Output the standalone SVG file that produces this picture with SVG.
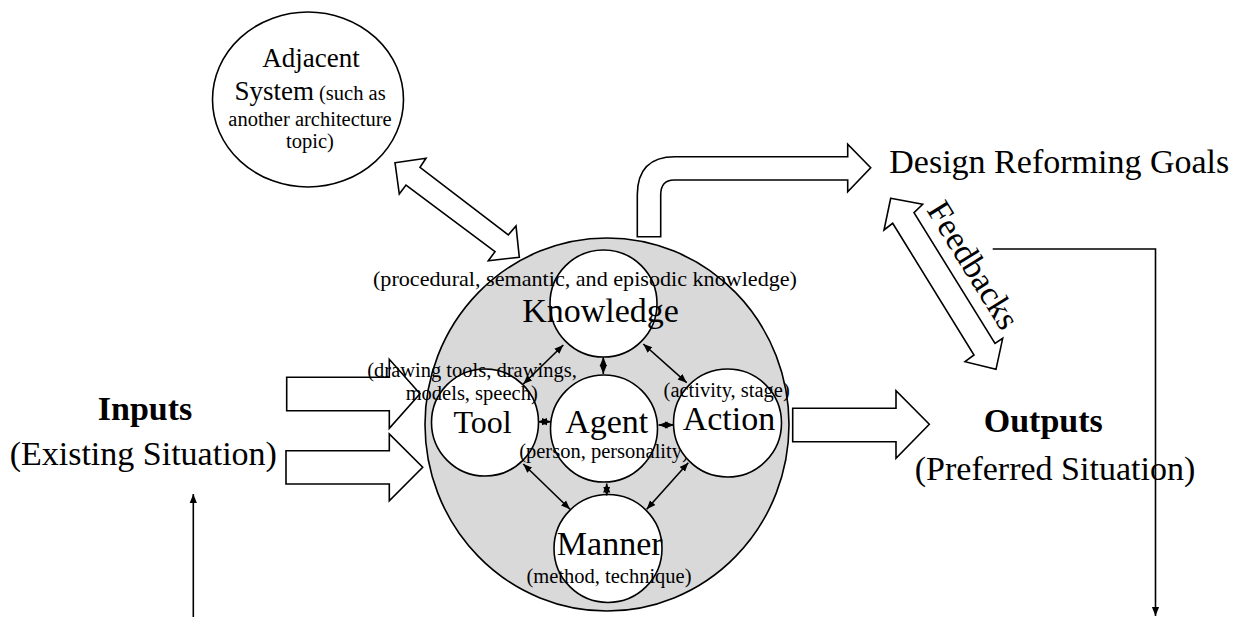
<svg xmlns="http://www.w3.org/2000/svg" width="1234" height="617" viewBox="0 0 1234 617">
<defs>
<style>
text{font-family:"Liberation Serif","Times New Roman",serif;fill:#000}
.big{font-size:34px}
.sm{font-size:20.5px}
.b{font-weight:bold}
.shape{fill:#fff;stroke:#000;stroke-width:1.6}
.line{fill:none;stroke:#000;stroke-width:1.6}
</style>
<marker id="ah" viewBox="0 0 10 10" refX="10" refY="5" markerWidth="9" markerHeight="9" markerUnits="userSpaceOnUse" orient="auto-start-reverse"><path d="M0,1 L10,5 L0,9 z" fill="#000"/></marker>
</defs>
<rect width="1234" height="617" fill="#fff"/>

<g id="adjacent">
<ellipse class="shape" cx="308" cy="99.5" rx="95.5" ry="87.5"/>
<text x="311" y="67" text-anchor="middle" style="font-size:27px">Adjacent</text>
<text x="310" y="100" text-anchor="middle"><tspan style="font-size:27px">System</tspan><tspan class="sm"> (such as</tspan></text>
<text class="sm" x="310" y="126" text-anchor="middle">another architecture</text>
<text class="sm" x="310" y="148" text-anchor="middle">topic)</text>
</g>

<g id="system">
<ellipse cx="607" cy="424.5" rx="182" ry="186.5" fill="#d9d9d9" stroke="#000" stroke-width="1.6"/>
</g>

<g id="block-arrows">
<path class="shape" d="M395,162.7 L426,158.3 L420,167.3 L508.3,235 L516,226 L519.3,257.3 L488.3,260.7 L495,251.7 L406,185 L399.3,194 Z"/>
<path class="shape" d="M637.3,236.7 L637.3,195 Q637.3,156.7 675,156.7 L847.7,156.7 L847.7,144.3 L870.7,167.7 L847.7,191.7 L847.7,180 L674,180 Q660.7,180 660.7,195 L660.7,236.7 Z"/>
<path class="shape" d="M890.7,198.3 L922.7,204.3 L914,212.7 L995,343.3 L1002.7,338.3 L996,369.3 L965,361.7 L974,355 L892.7,223.3 L884,230 Z"/>
<path class="shape" d="M286.7,377.3 L389.3,377.3 L389.3,359.3 L420,393.8 L389.3,428.3 L389.3,410.7 L286.7,410.7 Z"/>
<path class="shape" d="M286,450.7 L389.3,450.7 L389.3,434 L422.7,467.3 L389.3,500.7 L389.3,484 L286,484 Z"/>
<path class="shape" d="M792.7,408.3 L896,408.3 L896,390.7 L929.3,424.3 L896,458.3 L896,441.7 L792.7,441.7 Z"/>
</g>

<g id="knowledge">
<circle class="shape" cx="603.5" cy="303.5" r="53.5"/>
<text x="600.5" y="321.7" text-anchor="middle" class="big">Knowledge</text>
<text x="585" y="286" text-anchor="middle" style="font-size:21px" textLength="424" lengthAdjust="spacingAndGlyphs">(procedural, semantic, and episodic knowledge)</text>
</g>
<g id="tool">
<circle class="shape" cx="485" cy="422.5" r="53.5"/>
<text x="482.5" y="432.7" text-anchor="middle" style="font-size:32px">Tool</text>
<text class="sm" x="472" y="376.7" text-anchor="middle">(drawing tools, drawings,</text>
<text class="sm" x="471.7" y="400" text-anchor="middle">models, speech)</text>
</g>
<g id="agent">
<circle class="shape" cx="604" cy="428.5" r="53.5"/>
<text x="606.7" y="432.7" text-anchor="middle" class="big">Agent</text>
<text class="sm" x="604" y="458" text-anchor="middle">(person, personality)</text>
</g>
<g id="action">
<circle class="shape" cx="727.5" cy="423" r="54"/>
<text x="729" y="430" text-anchor="middle" class="big">Action</text>
<text class="sm" x="726.7" y="396.7" text-anchor="middle">(activity, stage)</text>
</g>
<g id="manner">
<circle class="shape" cx="608" cy="548.5" r="54"/>
<text x="609.7" y="555" text-anchor="middle" class="big">Manner</text>
<text class="sm" x="609" y="583.3" text-anchor="middle">(method, technique)</text>
</g>

<g id="goals">
<text x="889.3" y="173.3" class="big">Design Reforming Goals</text>
</g>
<g id="feedbacks">
<text class="big" transform="translate(926,210) rotate(58.2)">Feedbacks</text>
</g>
<g id="inputs">
<text x="145" y="420" text-anchor="middle" class="big b">Inputs</text>
<text x="143.3" y="465" text-anchor="middle" class="big">(Existing Situation)</text>
</g>
<g id="outputs">
<text x="1043.3" y="431.7" text-anchor="middle" class="big b">Outputs</text>
<text x="1055" y="480" text-anchor="middle" class="big">(Preferred Situation)</text>
</g>

<g id="connectors">
<line class="line" x1="563.3" y1="345" x2="523.3" y2="384" marker-start="url(#ah)" marker-end="url(#ah)"/>
<line class="line" x1="603.3" y1="357" x2="603.3" y2="374" marker-start="url(#ah)" marker-end="url(#ah)"/>
<line class="line" x1="643.3" y1="344" x2="686.7" y2="382.7" marker-start="url(#ah)" marker-end="url(#ah)"/>
<line class="line" x1="538" y1="421.7" x2="551" y2="421.7" marker-start="url(#ah)" marker-end="url(#ah)"/>
<line class="line" x1="658.5" y1="425" x2="674" y2="425" marker-start="url(#ah)" marker-end="url(#ah)"/>
<line class="line" x1="606.7" y1="483.5" x2="606.7" y2="495.5" marker-start="url(#ah)" marker-end="url(#ah)"/>
<line class="line" x1="523.3" y1="464" x2="570" y2="509.3" marker-start="url(#ah)" marker-end="url(#ah)"/>
<line class="line" x1="688.3" y1="462.7" x2="646.7" y2="509.3" marker-start="url(#ah)" marker-end="url(#ah)"/>
<polyline class="line" points="992.7,249 1155.5,249 1155.5,616" marker-end="url(#ah)"/>
<line class="line" x1="193.3" y1="617" x2="193.3" y2="494" marker-end="url(#ah)"/>
</g>
</svg>
